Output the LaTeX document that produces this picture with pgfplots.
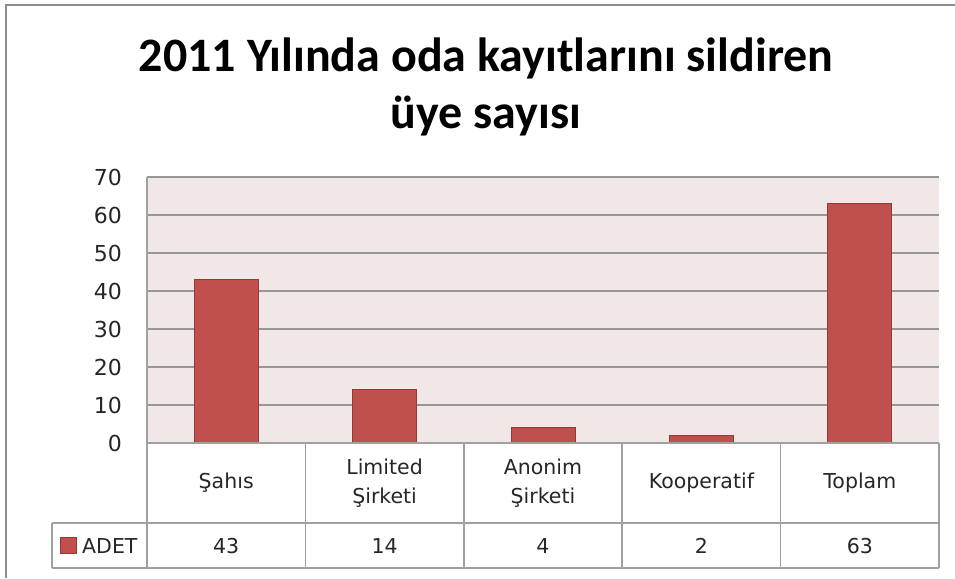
\documentclass[border=0pt]{standalone}
\usepackage{pgfplots}
\pgfplotsset{compat=1.18}
\usepackage{pgfplotstable}
\usepackage{fontspec}
\setmainfont{DejaVu Sans}
\newfontfamily\dv{DejaVu Sans}
\newfontfamily\carlito{Carlito}
\definecolor{barred}{RGB}{192,80,77}
\definecolor{bardark}{RGB}{150,56,54}
\definecolor{bgpink}{RGB}{242,231,231}
\definecolor{gridgray}{RGB}{150,150,150}
\definecolor{tablegray}{RGB}{160,160,160}
\definecolor{framegray}{RGB}{140,140,140}

\pgfplotstableread{
x v
0 43
1 14
2 4
3 2
4 63
}\datatable

\begin{document}
\begin{tikzpicture}[x=1pt,y=1pt]
\path[use as bounding box] (0,0) rectangle (955,578);
% chart frame
\draw[framegray, line width=2.5pt] (6,0) -- (6,573) -- (955,573);
% title
\node[anchor=base, inner sep=0pt, font=\carlito\bfseries\fontsize{48}{57}\selectfont] at (486,506) {2011 Yılında oda kayıtlarını sildiren};
\node[anchor=base, inner sep=0pt, font=\carlito\bfseries\fontsize{48}{57}\selectfont] at (486,449) {üye sayısı};

\begin{axis}[
  at={(147pt,135pt)}, anchor=south west,
  scale only axis, width=792pt, height=266pt,
  xmin=-0.5, xmax=4.5, ymin=0, ymax=70,
  ytick={0,10,...,70},
  xtick={0,1,2,3,4},
  xticklabels={Şahıs,{Limited\\Şirketi},{Anonim\\Şirketi},Kooperatif,Toplam},
  major tick length=0pt,
  axis line style={draw=none},
  ymajorgrids,
  grid style={gridgray, line width=1.2pt},
  axis background/.style={fill=bgpink},
  clip=false,
  /pgf/number format/assume math mode=true,
  tick label style={font=\dv\fontsize{20.5}{29}\selectfont, text=black!85},
  yticklabel style={inner sep=0pt, anchor=east, xshift=-25pt, font=\dv\fontsize{22}{26}\selectfont},
  xticklabel style={align=center, anchor=center, inner sep=0pt, yshift=-40pt},
]
\addplot[ybar, bar width=64pt, fill=barred, draw=bardark, line width=1pt] table[x=x, y=v] {\datatable};
\addplot[draw=none, mark=none, nodes near coords, point meta=explicit,
  every node near coord/.append style={anchor=base, yshift=-110pt, inner sep=0pt, font=\dv\fontsize{20.5}{29}\selectfont, text=black!85}]
  table[x=x, y expr=0, meta=v] {\datatable};
\end{axis}

% data table lines
\begin{scope}[tablegray, line width=1.5pt]
\draw (147,401) -- (147,10);
\foreach \k in {1,...,5} {
  \draw (147+158.4*\k,135) -- (147+158.4*\k,10);
}
\draw (147,135) -- (939,135);
\draw (52,55) -- (939,55);
\draw (52,10) -- (939,10);
\draw (52,55) -- (52,10);
\end{scope}
% legend key
\fill[barred, draw=bardark, line width=0.8pt] (60,25) rectangle (76,41);
\node[anchor=base west, inner sep=0pt, font=\dv\fontsize{20.5}{29}\selectfont, text=black!85] at (82,25) {ADET};
\end{tikzpicture}
\end{document}
